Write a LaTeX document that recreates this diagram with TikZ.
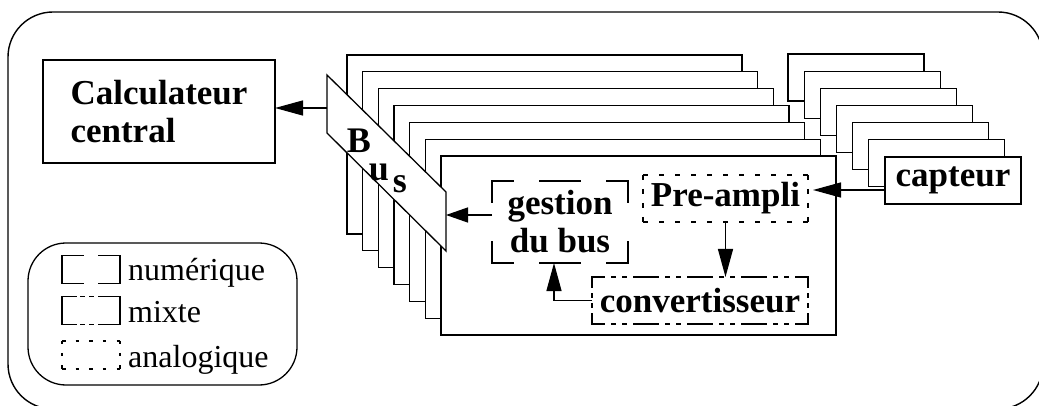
\documentclass[tikz,border=0pt]{standalone}
\usepackage{fontspec}
\setmainfont{Liberation Serif}
\usetikzlibrary{arrows.meta}

% block edges drawn side by side so that every side gets its own dash layout
\newcommand\boxedges[3]{%
  \draw[#2] (#1.north west) -- (#1.north east);
  \draw[#2] (#1.south west) -- (#1.south east);
  \draw[#3] (#1.north west) -- (#1.south west);
  \draw[#3] (#1.north east) -- (#1.south east);
}

\tikzset{
  thin line/.style={line width=1.3pt},
  card/.style={draw, fill=white, line width=1.2pt},
  arr/.style={line width=1.3pt, -{Triangle[length=28pt,width=15pt]}},
  blk/.style={inner sep=0pt, outer sep=0pt,
    font=\fontsize{35}{38}\selectfont\bfseries},
  buslet/.style={inner sep=0pt, font=\fontsize{36}{36}\selectfont\bfseries},
  legtext/.style={inner sep=0pt, anchor=base west,
    font=\fontsize{32}{32}\selectfont},
  sym/.style={inner sep=0pt, outer sep=0pt, minimum width=58pt, minimum height=28pt},
  edge/.style={line width=1.5pt, line cap=rect},
  % digital block: corner brackets and a middle dash on the long sides
  numH/.style={edge, dash pattern=on 40pt off 27pt, dash phase=19pt},
  numV/.style={edge, dash pattern=on 42pt off 40pt, dash phase=21pt},
  % mixed block: dash, dot, dot
  mixH/.style={edge, dash pattern=on 24pt off 8pt on 3pt off 8pt on 3pt off 8pt, dash phase=12pt},
  mixV/.style={edge, dash pattern=on 20pt off 7pt on 3pt off 7pt on 3pt off 7pt, dash phase=10pt},
  % analogue block: dots
  anaH/.style={line width=2pt, line cap=butt, dash pattern=on 5pt off 11pt},
  anaV/.style={line width=2pt, line cap=butt, dash pattern=on 5pt off 9pt},
  % legend samples
  lnumH/.style={edge, dash pattern=on 42pt off 16pt, dash phase=21pt},
  lmixH/.style={edge, dash pattern=on 35pt off 5pt on 3pt off 6pt on 3pt off 6pt, dash phase=21pt},
  lanaH/.style={line width=2pt, line cap=butt, dash pattern=on 3.5pt off 10.125pt},
  lanaV/.style={line width=2pt, line cap=butt, dash pattern=on 3.5pt off 8.75pt},
  solidV/.style={edge},
}

\begin{document}
\begin{tikzpicture}[x=1pt, y=-1pt]
\useasboundingbox (0,0) rectangle (1039,406);

% outer frame
\begin{scope}
  \clip (0,0) rectangle (1039,406);
  \draw[line width=1.4pt, rounded corners=45pt] (8,12) rectangle (1043,409);
\end{scope}

% stack of acquisition modules
\foreach \i in {0,...,6}
  \draw[card] ({347+15.67*\i},{55+16.83*\i}) rectangle ++(395,179);

% bus
\draw[thin line, fill=white] (327,75) -- (446,192) -- (446,251) -- (327,133) -- cycle;
\coordinate (busL) at (327,108);
\coordinate (busR) at (446,215);
\node[buslet] (busB) at (359,141) {B};
\node[buslet] (busU) at (379,172) {u};
\node[buslet] (busS) at (400,184) {s};

% stack of sensors
\foreach \i in {0,...,5}
  \draw[card] ({788+16.17*\i},{54+17.17*\i}) rectangle ++(136,47);
\node[blk, card, minimum width=136pt, minimum height=47pt] (capteur) at (953,180.5) {capteur};

% central computer
\node[blk, draw, line width=1.3pt, minimum width=232pt, minimum height=103pt, align=left]
  (calc) at (159,111.5) {Calculateur\\central};

% blocks of the front module
\node[blk, minimum width=136pt, minimum height=82pt, align=center] (gestion) at (560,222) {gestion\\du bus};
\boxedges{gestion}{numH}{numV}
\node[blk, minimum width=165pt, minimum height=47pt] (preampli) at (725.5,198.5) {Pre-ampli};
\boxedges{preampli}{anaH}{anaV}
\node[blk, minimum width=216pt, minimum height=47pt] (conv) at (700,300.5) {convertisseur};
\boxedges{conv}{mixH}{mixV}

% signal path
\coordinate (sig) at (0,190);
\draw[arr] (capteur.west |- sig) -- ([xshift=5pt]preampli.east |- sig);
\draw[arr] (preampli.south) -- (preampli.south |- conv.north);
\draw[arr] (conv.west) -| ([xshift=-6pt]gestion.south);
\draw[arr, -{Triangle[length=22pt,width=15pt]}] ([yshift=7pt]gestion.west) -- (busR);
\draw[arr] (busL) -- (calc.east |- busL);

% legend
\draw[thin line, rounded corners=38pt] (28,243) rectangle (297,385);
\node[sym] (symnum) at (91,269.5) {};
\boxedges{symnum}{lnumH}{solidV}
\node[sym] (symmix) at (91,310.5) {};
\boxedges{symmix}{lmixH}{solidV}
\node[sym] (symana) at (91,354.5) {};
\boxedges{symana}{lanaH}{lanaV}
\node[legtext] (tnum) at (128,280) {numérique};
\node[legtext] (tmix) at (128,322) {mixte};
\node[legtext] (tana) at (128,367) {analogique};
\end{tikzpicture}
\end{document}
